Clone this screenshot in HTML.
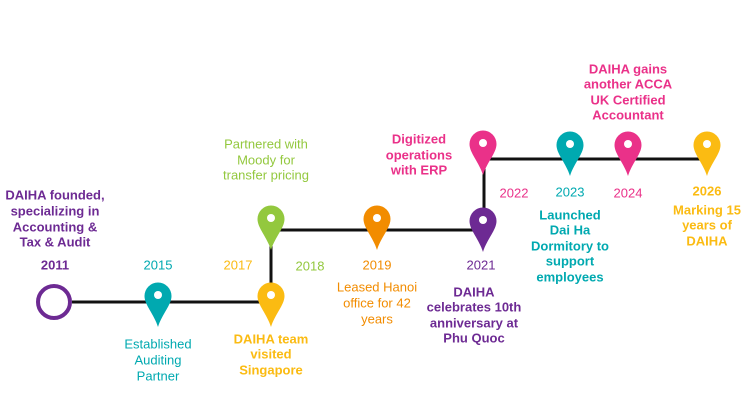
<!DOCTYPE html>
<html><head><meta charset="utf-8"><style>
html,body{margin:0;padding:0;background:#fff;}
svg{display:block;}
text{font-family:"Liberation Sans",Arial,sans-serif;font-size:13px;text-anchor:middle;dominant-baseline:central;}
.b{font-weight:bold;}
</style></head><body>
<svg width="754" height="405" viewBox="0 0 754 405" xmlns="http://www.w3.org/2000/svg">
<defs>
<path id="pin" d="M-13.5,0 A13.5,13.5 0 1 1 13.5,0 C13.5,9 4,18 0,31 C-4,18 -13.5,9 -13.5,0 Z"/>
</defs>
<g stroke="#111" stroke-width="3" fill="none">
<line x1="72" y1="302" x2="271" y2="302"/>
<line x1="271" y1="302" x2="271" y2="230"/>
<line x1="271" y1="230" x2="484" y2="230"/>
<line x1="484" y1="230" x2="484" y2="159"/>
<line x1="484" y1="159" x2="707" y2="159"/>
</g>
<circle cx="54" cy="302" r="16" fill="#fff" stroke="#6d2a93" stroke-width="4"/>
<g>
<use href="#pin" x="158" y="296" fill="#00a9b0"/><circle cx="158" cy="295" r="4" fill="#fff"/>
<use href="#pin" x="271" y="296" fill="#fbbb12"/><circle cx="271" cy="295" r="4" fill="#fff"/>
<use href="#pin" x="271" y="219" fill="#93c83e"/><circle cx="271" cy="218" r="4" fill="#fff"/>
<use href="#pin" x="377" y="219" fill="#f28c00"/><circle cx="377" cy="218" r="4" fill="#fff"/>
<use href="#pin" x="483" y="221" fill="#6d2a93"/><circle cx="483" cy="220" r="4" fill="#fff"/>
<use href="#pin" x="483" y="144" fill="#ea3189"/><circle cx="483" cy="143" r="4" fill="#fff"/>
<use href="#pin" x="570" y="145" fill="#00a9b0"/><circle cx="570" cy="144" r="4" fill="#fff"/>
<use href="#pin" x="628" y="145" fill="#ea3189"/><circle cx="628" cy="144" r="4" fill="#fff"/>
<use href="#pin" x="707" y="145" fill="#fbbb12"/><circle cx="707" cy="144" r="4" fill="#fff"/>
</g>
<g fill="#6d2a93" class="b">
<text x="55" y="195" class="b">DAIHA founded,</text>
<text x="55" y="211" class="b">specializing in</text>
<text x="55" y="227" class="b">Accounting &amp;</text>
<text x="55" y="242" class="b">Tax &amp; Audit</text>
<text x="55" y="265" class="b">2011</text>
</g>
<g fill="#00a9b0">
<text x="158" y="265">2015</text>
<text x="158" y="344">Established</text>
<text x="158" y="360">Auditing</text>
<text x="158" y="376">Partner</text>
</g>
<text x="238" y="265" fill="#fbbb12">2017</text>
<text x="310" y="266" fill="#93c83e">2018</text>
<g fill="#93c83e">
<text x="266" y="144">Partnered with</text>
<text x="266" y="160">Moody for</text>
<text x="266" y="175">transfer pricing</text>
</g>
<g fill="#fbbb12">
<text x="271" y="339" class="b">DAIHA team</text>
<text x="271" y="354" class="b">visited</text>
<text x="271" y="370" class="b">Singapore</text>
</g>
<g fill="#f28c00">
<text x="377" y="265">2019</text>
<text x="377" y="287">Leased Hanoi</text>
<text x="377" y="303">office for 42</text>
<text x="377" y="319">years</text>
</g>
<g fill="#6d2a93">
<text x="481" y="265">2021</text>
<text x="474" y="292" class="b">DAIHA</text>
<text x="474" y="307" class="b">celebrates 10th</text>
<text x="474" y="323" class="b">anniversary at</text>
<text x="474" y="338" class="b">Phu Quoc</text>
</g>
<g fill="#ea3189">
<text x="419" y="139" class="b">Digitized</text>
<text x="419" y="155" class="b">operations</text>
<text x="419" y="170" class="b">with ERP</text>
<text x="514" y="193">2022</text>
<text x="628" y="193">2024</text>
<text x="628" y="69" class="b">DAIHA gains</text>
<text x="628" y="84" class="b">another ACCA</text>
<text x="628" y="100" class="b">UK Certified</text>
<text x="628" y="115" class="b">Accountant</text>
</g>
<g fill="#00a9b0">
<text x="570" y="192">2023</text>
<text x="570" y="215" class="b">Launched</text>
<text x="570" y="230" class="b">Dai Ha</text>
<text x="570" y="246" class="b">Dormitory to</text>
<text x="570" y="261" class="b">support</text>
<text x="570" y="277" class="b">employees</text>
</g>
<g fill="#fbbb12">
<text x="707" y="191" class="b">2026</text>
<text x="707" y="210" class="b">Marking 15</text>
<text x="707" y="225" class="b">years of</text>
<text x="707" y="241" class="b">DAIHA</text>
</g>
</svg>
</body></html>
